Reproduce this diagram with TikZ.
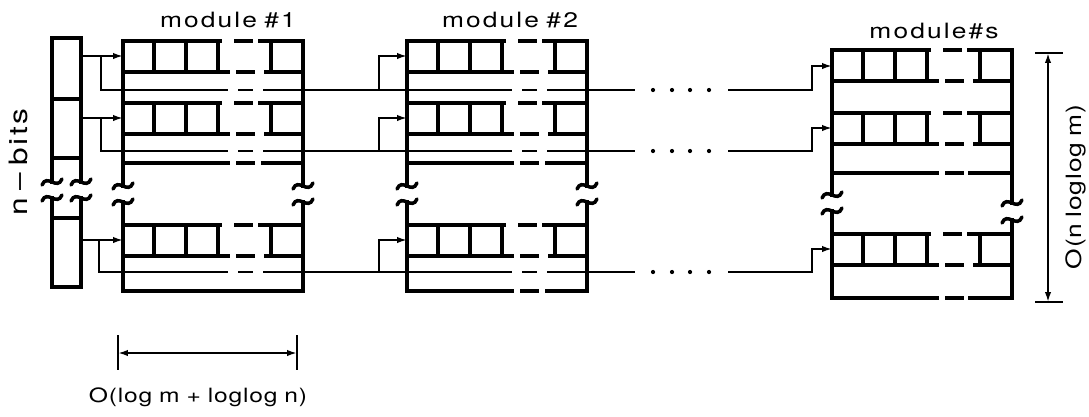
\documentclass[tikz,border=0pt]{standalone}
\usepackage{fontspec}
\usetikzlibrary{arrows.meta}
\newfontfamily\lblfont[FakeStretch=1.25,LetterSpace=10]{TeX Gyre Heros}
\newfontfamily\dimfont[FakeStretch=1.25,LetterSpace=4]{TeX Gyre Heros}

% one register row: left x, top y (pixel units)
\newcommand{\regrow}[2]{%
  \begin{scope}[shift={(#1,#2)}]
    \draw[reg] (0,0) -- (97,0) (113,0) -- (128,0) (137,0) -- (180,0);
    \draw[reg] (0,31) -- (105,31) (115,31) -- (130,31) (143,31) -- (180,31);
    \draw[reg] (31,0) -- (31,31) (63,0) -- (63,31) (95,0) -- (95,31) (148,0) -- (148,31);
  \end{scope}}
% break mark on a vertical line
\newcommand{\brk}[2]{\draw[reg,line cap=round] (#1-10,#2+3) .. controls (#1-5,#2-9) and (#1+5,#2+9) .. (#1+10,#2-3);}

\begin{document}
\begin{tikzpicture}[x=0.025cm,y=-0.025cm,
  reg/.style={line width=2.5pt,line cap=rect},
  wire/.style={line width=1.3pt},
  feed/.style={wire,-{Latex[length=7pt,width=4.5pt]}},
  lbl/.style={font=\lblfont\fontsize{15}{17}\selectfont,inner sep=0pt},
  dim/.style={font=\dimfont\fontsize{14}{16}\selectfont,inner sep=0pt}]
\useasboundingbox (0,0) rectangle (1089,416);

% n-bits register
\draw[reg] (52,182) -- (52,38) -- (81,38) -- (81,182);
\draw[reg] (52,99) -- (81,99) (52,158) -- (81,158);
\draw[reg] (52,198) -- (52,287) -- (81,287) -- (81,198);
\draw[reg] (52,218) -- (81,218);
\brk{52}{182} \brk{81}{182} \brk{52}{198} \brk{81}{198}
\node[lbl,font=\lblfont\fontsize{18}{20}\selectfont,rotate=90] (nbits) at (18,162) {n\hspace{0.3em}–\hspace{0.3em}bits};

% module #1
\draw[reg] (123,186) -- (123,41);
\draw[reg] (303,41) -- (303,186);
\draw[reg] (123,202) -- (123,291) -- (303,291) -- (303,202);
\brk{123}{186} \brk{303}{186} \brk{123}{202} \brk{303}{202}
\regrow{123}{41} \regrow{123}{103} \regrow{123}{225}
\draw[reg] (123,163) -- (228,163) (238,163) -- (253,163) (263,163) -- (303,163);
\node[lbl] (mod1) at (228,20) {module\hspace{0.35em}\#1};

% module #2
\draw[reg] (407,186) -- (407,41);
\draw[reg] (587,41) -- (587,186);
\draw[reg] (407,202) -- (407,291) -- (512,291) (522,291) -- (537,291) (547,291) -- (587,291) -- (587,202);
\brk{407}{186} \brk{587}{186} \brk{407}{202} \brk{587}{202}
\regrow{407}{41} \regrow{407}{103} \regrow{407}{225}
\draw[reg] (407,163) -- (512,163) (522,163) -- (537,163) (547,163) -- (587,163);
\node[lbl] (mod2) at (510,20) {module\hspace{0.35em}\#2};

% module #s
\draw[reg] (832,195) -- (832,50);
\draw[reg] (1012,50) -- (1012,203);
\draw[reg] (832,211) -- (832,298) -- (937,298) (947,298) -- (962,298) (970,298) -- (1012,298) -- (1012,220);
\brk{832}{195} \brk{1012}{203} \brk{832}{211} \brk{1012}{220}
\regrow{832}{50} \regrow{832}{113} \regrow{832}{234}
\draw[reg] (832,173) -- (937,173) (947,173) -- (962,173) (970,173) -- (1012,173);
\node[lbl] (mods) at (934,31) {module\#s};

% row 1 wires
\draw[feed] (81,56) -- (123,56);
\draw[wire] (101,56) -- (101,90) -- (228,90) (238,90) -- (253,90) (263,90) -- (512,90)
  (522,90) -- (537,90) (547,90) -- (635,90);
\draw[feed] (379,90) -- (379,56) -- (407,56);
\draw[feed] (728,90) -- (812,90) -- (812,66) -- (832,66);
% row 2 wires
\draw[feed] (81,118) -- (123,118);
\draw[wire] (101,118) -- (101,151) -- (228,151) (238,151) -- (253,151) (263,151) -- (512,151)
  (522,151) -- (537,151) (547,151) -- (635,151);
\draw[feed] (379,151) -- (379,118) -- (407,118);
\draw[feed] (728,151) -- (812,151) -- (812,128) -- (832,128);
% row 3 wires
\draw[feed] (81,240) -- (123,240);
\draw[wire] (99,240) -- (99,272) -- (228,272) (238,272) -- (253,272) (263,272) -- (512,272)
  (522,272) -- (537,272) (547,272) -- (635,272);
\draw[feed] (379,272) -- (379,240) -- (407,240);
\draw[feed] (728,272) -- (812,272) -- (812,249) -- (832,249);
% dots
\fill (653,90) circle (1.5pt) (672,90) circle (1.5pt) (690,90) circle (1.5pt) (709,90) circle (1.5pt);
\fill (653,151) circle (1.5pt) (672,151) circle (1.5pt) (690,151) circle (1.5pt) (709,151) circle (1.5pt);
\fill (653,272) circle (1.5pt) (672,272) circle (1.5pt) (690,272) circle (1.5pt) (709,272) circle (1.5pt);

% width of a module
\coordinate (wl) at (118,353);
\coordinate (wr) at (297,353);
\draw[wire] (118,335) -- (118,370) (297,335) -- (297,370);
\draw[wire,{Latex[length=7pt,width=4.5pt]}-{Latex[length=7pt,width=4.5pt]}] (wl) -- (wr);
\node[dim] (wtxt) at (198,397) {O(log\hspace{0.35em}m\hspace{0.35em}+\hspace{0.35em}loglog\hspace{0.35em}n)};

% height of a module
\coordinate (ht) at (1048,53);
\coordinate (hb) at (1048,302);
\draw[wire] (1035,53) -- (1063,53) (1035,302) -- (1063,302);
\draw[wire,{Latex[length=7pt,width=4.5pt]}-{Latex[length=7pt,width=4.5pt]}] (ht) -- (hb);
\node[dim,font=\dimfont\fontsize{15}{17}\selectfont,rotate=90] (htxt) at (1076,187) {O(n\hspace{0.3em}loglog\hspace{0.3em}m)};
\end{tikzpicture}
\end{document}
